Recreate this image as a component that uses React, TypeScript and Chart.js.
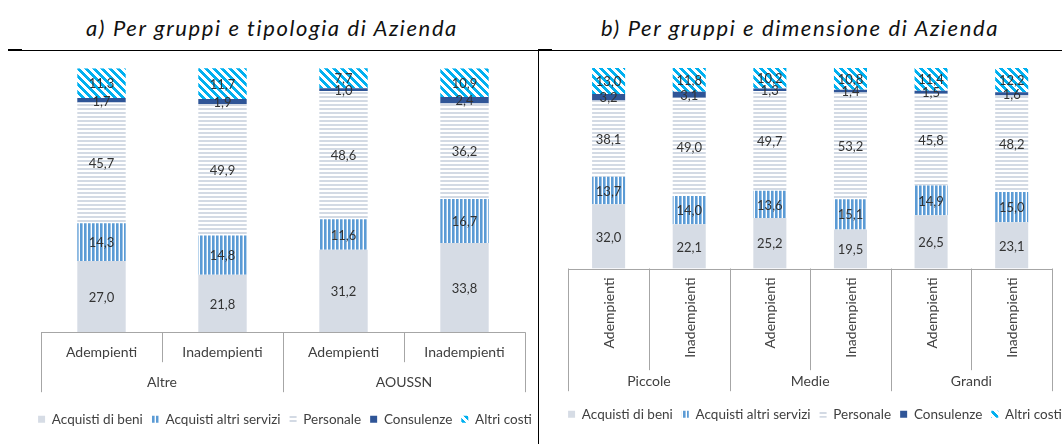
import React, { useEffect, useRef } from "react";
import { Chart, registerables } from "chart.js";

Chart.register(...registerables);

const seriesNames = [
  "Acquisti di beni",
  "Acquisti altri servizi",
  "Personale",
  "Consulenze",
  "Altri costi",
];

// Panel a) Per gruppi e tipologia di Azienda
const titleA = "a) Per gruppi e tipologia di Azienda";
const groupsA = ["Altre", "AOUSSN"];
const subLabelsA = ["Adempienti", "Inadempienti", "Adempienti", "Inadempienti"];
const beniA = [27.0, 21.8, 31.2, 33.8];
const serviziA = [14.3, 14.8, 11.6, 16.7];
const personaleA = [45.7, 49.9, 48.6, 36.2];
const consulenzeA = [1.7, 1.9, 1.0, 2.4];
const altriA = [11.3, 11.7, 7.7, 10.9];

// Panel b) Per gruppi e dimensione di Azienda
const titleB = "b) Per gruppi e dimensione di Azienda";
const groupsB = ["Piccole", "Medie", "Grandi"];
const subLabelsB = [
  "Adempienti",
  "Inadempienti",
  "Adempienti",
  "Inadempienti",
  "Adempienti",
  "Inadempienti",
];
const beniB = [32.0, 22.1, 25.2, 19.5, 26.5, 23.1];
const serviziB = [13.7, 14.0, 13.6, 15.1, 14.9, 15.0];
const personaleB = [38.1, 49.0, 49.7, 53.2, 45.8, 48.2];
const consulenzeB = [3.2, 3.1, 1.3, 1.4, 1.5, 1.6];
const altriB = [13.0, 11.8, 10.2, 10.8, 11.4, 12.2];

const FONT = "Lato";

function makeFill(kind: string): any {
  if (kind === "solidGrey") return "#D6DCE5";
  if (kind === "solidBlue") return "#2F5597";
  const c = document.createElement("canvas");
  const g = c.getContext("2d")!;
  if (kind === "vert") {
    c.width = 4;
    c.height = 4;
    g.fillStyle = "#ffffff";
    g.fillRect(0, 0, 4, 4);
    g.fillStyle = "#5B9BD5";
    g.fillRect(0, 0, 2, 4);
    g.fillStyle = "#9DC3E6";
    g.fillRect(2, 0, 1, 4);
  } else if (kind === "horiz") {
    c.width = 4;
    c.height = 4;
    g.fillStyle = "#ffffff";
    g.fillRect(0, 0, 4, 4);
    g.fillStyle = "#D3DAE4";
    g.fillRect(0, 0, 4, 2);
  } else {
    c.width = 8;
    c.height = 8;
    g.fillStyle = "#ffffff";
    g.fillRect(0, 0, 8, 8);
    g.fillStyle = "#00B0F0";
    for (let yy = 0; yy < 8; yy++) {
      for (let xx = 0; xx < 8; xx++) {
        if ((((xx - yy) % 8) + 8) % 8 < 4) g.fillRect(xx, yy, 1, 1);
      }
    }
  }
  return g.createPattern(c, "repeat");
}

const fmt = (v: number) => v.toFixed(1).replace(".", ",");

const valueLabels = {
  id: "valueLabels",
  afterDatasetsDraw(chart: any) {
    const { ctx } = chart;
    ctx.save();
    ctx.font = `13px ${FONT}`;
    ctx.fillStyle = "#333333";
    ctx.textAlign = "center";
    ctx.textBaseline = "middle";
    chart.data.datasets.forEach((ds: any, di: number) => {
      const meta = chart.getDatasetMeta(di);
      meta.data.forEach((bar: any, i: number) => {
        const { x, y, base } = bar.getProps(["x", "y", "base"], true);
        ctx.fillText(fmt(ds.data[i]), x, (y + base) / 2 + 1);
      });
    });
    ctx.restore();
  },
};

type Panel = {
  subLabels: string[];
  groups: string[];
  groupSize: number;
  values: number[][];
  barPct: number;
  width: number;
  yW: number;
  y2W: number;
  top: number;
  xH: number;
  bottomPad: number;
  row1H: number;
  row2H: number;
  rotate: boolean;
  row1Dy: number;
  row2Dy: number;
};

function multiAxis(p: Panel) {
  return {
    id: "multiAxis",
    afterDraw(chart: any) {
      const { ctx, chartArea } = chart;
      const x = chart.scales.x;
      const n = p.subLabels.length;
      const band = x.getPixelForValue(1) - x.getPixelForValue(0);
      const left = x.getPixelForValue(0) - band / 2;
      const y0 = chartArea.bottom;
      ctx.save();
      ctx.strokeStyle = "#A6A6A6";
      ctx.lineWidth = 1;
      ctx.beginPath();
      ctx.moveTo(left, Math.round(y0) + 0.5);
      ctx.lineTo(left + n * band, Math.round(y0) + 0.5);
      for (let i = 0; i <= n; i++) {
        const xb = Math.round(left + i * band) + 0.5;
        const full = i % p.groupSize === 0;
        ctx.moveTo(xb, y0);
        ctx.lineTo(xb, y0 + (full ? p.row1H + p.row2H : p.row1H));
      }
      ctx.stroke();
      ctx.fillStyle = "#404040";
      ctx.font = `14px ${FONT}`;
      ctx.textBaseline = "middle";
      for (let i = 0; i < n; i++) {
        const cx = x.getPixelForValue(i);
        if (p.rotate) {
          ctx.save();
          ctx.translate(cx + 1, y0 + p.row1Dy);
          ctx.rotate(-Math.PI / 2);
          ctx.textAlign = "right";
          ctx.fillText(p.subLabels[i], 0, 0);
          ctx.restore();
        } else {
          ctx.textAlign = "center";
          ctx.fillText(p.subLabels[i], cx, y0 + p.row1Dy);
        }
      }
      ctx.textAlign = "center";
      p.groups.forEach((g, gi) => {
        const a = x.getPixelForValue(gi * p.groupSize);
        const b = x.getPixelForValue(gi * p.groupSize + p.groupSize - 1);
        ctx.fillText(g, (a + b) / 2, y0 + p.row2Dy);
      });
      ctx.restore();
    },
  };
}

function PanelChart({ p, style }: { p: Panel; style: React.CSSProperties }) {
  const ref = useRef<HTMLCanvasElement>(null);
  useEffect(() => {
    if (!ref.current) return;
    const fills = [
      makeFill("solidGrey"),
      makeFill("vert"),
      makeFill("horiz"),
      makeFill("solidBlue"),
      makeFill("diag"),
    ];
    const chart = new Chart(ref.current, {
      type: "bar",
      data: {
        labels: p.subLabels,
        datasets: seriesNames.map((name, i) => ({
          label: name,
          data: p.values[i],
          backgroundColor: fills[i],
          borderWidth: 0,
          barPercentage: p.barPct,
          categoryPercentage: 1,
        })),
      },
      options: {
        animation: false,
        responsive: false,
        events: [],
        layout: {
          padding: { left: 0, right: 0, top: p.top, bottom: p.bottomPad },
        },
        scales: {
          x: {
            stacked: true,
            grid: { display: false },
            border: { display: false },
            ticks: { display: false },
            afterFit: (s: any) => {
              s.height = p.xH;
            },
          },
          y: {
            stacked: true,
            min: 0,
            max: 100,
            grid: { display: false },
            border: { display: false },
            ticks: { display: false },
            afterFit: (s: any) => {
              s.width = p.yW;
            },
          },
          y2: {
            position: "right",
            display: true,
            grid: { display: false },
            border: { display: false },
            ticks: { display: false },
            afterFit: (s: any) => {
              s.width = p.y2W;
            },
          },
        },
        plugins: {
          legend: {
            position: "bottom",
            labels: {
              boxWidth: 7,
              boxHeight: 7,
              padding: 9,
              color: "#404040",
              font: { size: 13.5, family: FONT },
            },
          },
          tooltip: { enabled: false },
          title: { display: false },
        },
      } as any,
      plugins: [valueLabels, multiAxis(p)],
    });
    return () => chart.destroy();
  }, []);
  return (
    <canvas
      ref={ref}
      width={p.width}
      height={444}
      style={{ position: "absolute", top: 0, width: p.width, height: 444, ...style }}
    />
  );
}

// left canvas spans x 0..570 (legend centred at 285), plot area 41..525
const panelA: Panel = {
  subLabels: subLabelsA,
  groups: groupsA,
  groupSize: 2,
  values: [beniA, serviziA, personaleA, consulenzeA, altriA],
  barPct: 0.4,
  width: 570,
  yW: 41,
  y2W: 45,
  top: 68.3,
  xH: 71.3,
  bottomPad: 8,
  row1H: 30,
  row2H: 30,
  rotate: false,
  row1Dy: 20,
  row2Dy: 50,
};

// right canvas spans x 539..1091 (legend centred at 815), plot area 568.3..1052
const panelB: Panel = {
  subLabels: subLabelsB,
  groups: groupsB,
  groupSize: 2,
  values: [beniB, serviziB, personaleB, consulenzeB, altriB],
  barPct: 0.41,
  width: 552,
  yW: 29.3,
  y2W: 39,
  top: 68,
  xH: 130,
  bottomPad: 13,
  row1H: 101.7,
  row2H: 21,
  rotate: true,
  row1Dy: 9,
  row2Dy: 112.7,
};

const titleStyle: React.CSSProperties = {
  position: "absolute",
  top: 14,
  width: 500,
  textAlign: "center",
  fontFamily: FONT,
  fontStyle: "italic",
  fontSize: 22,
  letterSpacing: "1.6px",
  lineHeight: "28px",
  color: "#111111",
  whiteSpace: "nowrap",
};

export default function App() {
  return (
    <div
      style={{
        position: "fixed",
        left: 0,
        top: 0,
        width: 1062,
        height: 444,
        overflow: "hidden",
        background: "#ffffff",
      }}
    >
      <div style={{ ...titleStyle, left: 272 - 250 }}>{titleA}</div>
      <div style={{ ...titleStyle, left: 800 - 250 }}>{titleB}</div>
      <div style={{ position: "absolute", left: 8, top: 49.5, width: 1054, height: 1.5, background: "#000" }} />
      <div style={{ position: "absolute", left: 8, top: 48.5, width: 14, height: 2, background: "#000" }} />
      <div style={{ position: "absolute", left: 538, top: 48.5, width: 14, height: 2, background: "#000" }} />
      <div style={{ position: "absolute", left: 537.5, top: 50, width: 1.5, height: 394, background: "#000" }} />
      <PanelChart p={panelA} style={{ left: 0 }} />
      <PanelChart p={panelB} style={{ left: 539 }} />
    </div>
  );
}
